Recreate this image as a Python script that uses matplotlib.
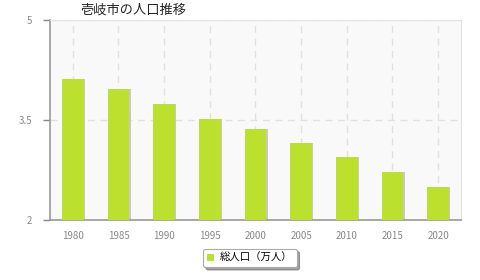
import matplotlib
matplotlib.use("Agg")
import matplotlib.pyplot as plt
import numpy as np

plt.rcParams['font.family'] = ['Noto Sans CJK JP', 'DejaVu Sans']

# Data
years = ["1980", "1985", "1990", "1995", "2000", "2005", "2010", "2015", "2020"]
population = [4.11, 3.96, 3.74, 3.515, 3.36, 3.15, 2.945, 2.72, 2.50]
yticks = [2, 3.5, 5]
ytick_labels = ["2", "3.5", "5"]

title = "壱岐市の人口推移"
series_name = "総人口（万人）"

bar_color = "#bce02e"
tick_color = "#888888"

fig = plt.figure(figsize=(4.8, 2.8), dpi=100)
ax = fig.add_axes([50 / 480, 60 / 280, 411 / 480, 200 / 280])
ax.set_facecolor("#f9f9f9")

x = np.arange(len(years))

# shadow behind bars
ax.bar(x + 0.03, population, width=0.48, color="#c8c8c8", zorder=2)
ax.bar(x, population, width=0.48, color=bar_color, zorder=3, label=series_name)

ax.set_xlim(-0.5, len(years) - 0.5)
ax.set_ylim(2, 5)

ax.set_xticks(x)
ax.set_xticklabels(years)
ax.set_yticks(yticks)
ax.set_yticklabels(ytick_labels)

ax.tick_params(axis="x", length=0, pad=8, labelsize=7, labelcolor=tick_color)
ax.tick_params(axis="y", length=5, width=1, color=tick_color, pad=8,
               labelsize=7, labelcolor=tick_color)

ax.grid(True, axis="both", color="#e0e0e0", linestyle=(0, (5, 4)), linewidth=1, zorder=1)
ax.set_axisbelow(True)

ax.spines["left"].set_color("#999999")
ax.spines["bottom"].set_color("#999999")
ax.spines["top"].set_color("#e2e2e2")
ax.spines["right"].set_color("#e2e2e2")
ax.spines["left"].set_linewidth(1.2)
ax.spines["bottom"].set_linewidth(1.2)

fig.text(80 / 480, 1 - 10 / 280, title, fontsize=9.5, color="#222222",
         ha="left", va="center")

leg = fig.legend(handles=[ax.patches[-1]], labels=[series_name],
                 loc="center", bbox_to_anchor=(250 / 480, 1 - 258 / 280),
                 frameon=True, fancybox=True, shadow=True, fontsize=7.5,
                 handlelength=0.6, handleheight=0.6, handletextpad=0.6,
                 borderpad=0.4)
leg.get_frame().set_edgecolor("#aaaaaa")
leg.get_frame().set_linewidth(0.8)

fig.savefig("out.png", dpi=100)
